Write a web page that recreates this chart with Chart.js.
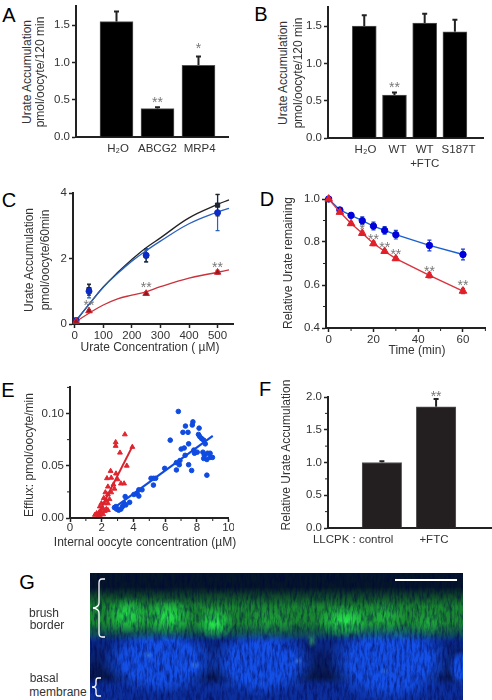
<!DOCTYPE html>
<html>
<head>
<meta charset="utf-8">
<title>Urate transport panels</title>
<script src="https://cdn.jsdelivr.net/npm/chart.js@4"></script>
<style>
html, body { margin: 0; padding: 0; background: #fff; }
#page { position: relative; width: 492px; height: 700px; overflow: hidden; font-family: "Liberation Sans", Arial, sans-serif; color: #333; }
#page canvas { position: absolute; }
.txt { position: absolute; white-space: nowrap; transform: translate(-50%, -50%); }
.letter { font-size: 20px; color: #000; }
.ttl { font-size: 12px; }
#micro {
  position: absolute; left: 90px; top: 573px; width: 373px; height: 127px;
  background:
    radial-gradient(ellipse 24px 19px at 38px 42px, rgba(40,240,80,.85), transparent),
    radial-gradient(ellipse 26px 19px at 78px 44px, rgba(40,245,80,.9), transparent),
    radial-gradient(ellipse 19px 17px at 125px 50px, rgba(40,250,80,.95), transparent),
    radial-gradient(ellipse 26px 15px at 180px 48px, rgba(40,190,70,.5), transparent),
    radial-gradient(ellipse 30px 17px at 255px 48px, rgba(40,245,80,.9), transparent),
    radial-gradient(ellipse 22px 16px at 295px 44px, rgba(40,225,75,.55), transparent),
    radial-gradient(ellipse 18px 14px at 338px 50px, rgba(40,205,70,.55), transparent),
    radial-gradient(ellipse 6px 8px at 222px 68px, rgba(60,190,80,.6), transparent),
    radial-gradient(ellipse 5px 4px at 58px 82px, rgba(90,170,240,.5), transparent),
    radial-gradient(ellipse 5px 4px at 105px 92px, rgba(90,170,240,.4), transparent),
    radial-gradient(ellipse 5px 4px at 208px 88px, rgba(90,170,240,.4), transparent),
    radial-gradient(ellipse 5px 4px at 295px 98px, rgba(90,170,240,.4), transparent),
    linear-gradient(180deg, transparent 0 14px, rgba(26,120,45,.55) 24px, rgba(26,140,48,.95) 34px, rgba(26,140,48,.95) 50px, rgba(26,120,60,.6) 60px, transparent 68px),
    radial-gradient(ellipse 13px 18px at 371px 95px, #1450e6 55%, transparent),
    radial-gradient(ellipse 60px 34px at 70px 88px, #1450e6 62%, transparent),
    radial-gradient(ellipse 54px 34px at 172px 90px, #1450e6 62%, transparent),
    radial-gradient(ellipse 64px 42px at 300px 88px, #1450e6 62%, transparent),
    linear-gradient(180deg, #051629 0 30px, #07205a 52px, #0a2a8c 66px, #08184a 104px, #0c2f9c 112px, #0c2f9c 127px);
}
#micro svg { position: absolute; left: 0; top: 0; }
</style>
</head>
<body>
<div id="page"></div>
<script>
// panel A
const xA = [1, 2, 3];
const valuesA = [1.545, 0.38, 0.96];
const errA = [0.135, 0.02, 0.12];
const labelsA = ['H₂O', 'ABCG2', 'MRP4'];
const labelPosA = [1.04, 2.0, 3.03];
const yTicksA = [0, 0.5, 1.0, 1.5];
const starXA = [2, 3];
const starYA = [0.48, 1.2];
const starTextA = ['**', '*'];

// panel B
const xB = [1, 2, 3, 4];
const valuesB = [1.5, 0.576, 1.54, 1.424];
const errB = [0.143, 0.035, 0.125, 0.16];
const labelsB = ['H₂O', 'WT', ['WT', '+FTC'], 'S187T'];
const labelPosB = [1.04, 2.1, 3.0, 4.12];
const yTicksB = [0, 0.5, 1.0, 1.5];
const starXB = [2];
const starYB = [0.69];
const starTextB = ['**'];

// panel C
const concC = [5, 50, 250, 500];
const blackC = [0.12, 1.05, 2.08, 3.63];
const blackErrC = [0.03, 0.17, 0.18, 0.33];
const blueC = [0.1, 1.0, 2.1, 3.4];
const blueErrC = [0.03, 0.2, 0.2, 0.55];
const redC = [0.08, 0.4, 0.93, 1.58];
const redErrC = [0.02, 0.04, 0.05, 0.06];
const curveXC = [0, 50, 100, 150, 200, 250, 300, 400, 500, 540];
const blackCurveC = [0.05, 0.6, 1.13, 1.57, 1.97, 2.33, 2.63, 3.24, 3.65, 3.79];
const blueCurveC = [0.05, 0.6, 1.12, 1.54, 1.92, 2.24, 2.53, 3.06, 3.42, 3.53];
const redCurveC = [0.05, 0.33, 0.58, 0.77, 0.88, 0.98, 1.14, 1.4, 1.58, 1.65];
const xTicksC = [0, 100, 200, 300, 400, 500];
const yTicksC = [0, 2, 4];
const starXC = [50, 250, 500];
const starYC = [0.62, 1.15, 1.77];
const starTextC = ['**', '**', '**'];

// panel D
const timeD = [0, 5, 10, 15, 20, 25, 30, 45, 60];
const blueD = [1.0, 0.949, 0.924, 0.899, 0.874, 0.854, 0.834, 0.784, 0.742];
const blueErrD = [0.005, 0.01, 0.012, 0.018, 0.018, 0.018, 0.02, 0.025, 0.025];
const redD = [1.0, 0.939, 0.886, 0.841, 0.793, 0.757, 0.723, 0.645, 0.572];
const redErrD = [0.005, 0.008, 0.008, 0.01, 0.01, 0.008, 0.008, 0.012, 0.012];
const xTicksD = [0, 20, 40, 60];
const yTicksD = [0.4, 0.6, 0.8, 1.0];
const starXD = [15, 20, 25, 30, 45, 60];
const starYD = [0.864, 0.818, 0.783, 0.746, 0.67, 0.606];
const starTextD = ['*', '**', '**', '**', '**', '**'];

// panel E
const blueXE = [6.83, 6.32, 7.28, 7.71, 7.75, 8.14, 7.12, 7.44, 8.10, 8.18, 8.30, 8.43, 8.53, 7.48, 7.01, 7.20, 7.26, 7.48, 7.67, 6.71, 6.89, 6.71, 6.93, 7.81, 7.85, 8.02, 8.38, 8.47, 8.67, 8.83, 8.43, 8.63, 8.83, 8.98, 8.63, 5.97, 5.26, 5.11, 5.40, 5.26, 4.34, 4.23, 4.03, 4.54, 3.48, 3.76, 3.52, 3.31, 2.90, 3.07, 3.21, 2.94, 2.80, 3.41, 4.34];
const blueYE = [0.102, 0.0745, 0.088, 0.089, 0.092, 0.086, 0.082, 0.082, 0.080, 0.078, 0.076, 0.0745, 0.071, 0.071, 0.066, 0.067, 0.060, 0.051, 0.0455, 0.046, 0.051, 0.053, 0.055, 0.065, 0.062, 0.063, 0.063, 0.060, 0.062, 0.062, 0.057, 0.056, 0.058, 0.058, 0.041, 0.0475, 0.038, 0.038, 0.038, 0.0315, 0.027, 0.0235, 0.0225, 0.027, 0.0205, 0.015, 0.0125, 0.011, 0.011, 0.0075, 0.0085, 0.0085, 0.010, 0.014, 0.021];
const redXE = [3.46, 2.88, 2.88, 3.93, 3.15, 3.58, 2.56, 2.9, 2.33, 2.6, 3.0, 3.21, 3.41, 2.74, 2.8, 2.39, 2.23, 2.39, 2.6, 2.13, 2.29, 2.49, 1.98, 2.19, 2.39, 1.88, 2.09, 2.29, 1.68, 1.84, 1.98, 2.19, 1.57, 1.88, 2.09, 1.78, 2.39];
const redYE = [0.08, 0.0725, 0.069, 0.068, 0.0625, 0.05, 0.045, 0.0425, 0.038, 0.0385, 0.037, 0.033, 0.033, 0.032, 0.028, 0.03, 0.0245, 0.0225, 0.0245, 0.019, 0.017, 0.018, 0.014, 0.014, 0.014, 0.011, 0.009, 0.0085, 0.0045, 0.0055, 0.006, 0.0067, 0.003, 0.003, 0.0035, 0.003, 0.0075];
const blueFitXE = [2.8, 9.0];
const blueFitYE = [0.01, 0.0787];
const redFitXE = [1.84, 3.95];
const redFitYE = [0.006, 0.069];
const xTicksE = [0, 2, 4, 6, 8, 10];
const yTicksE = [0, 0.05, 0.10];

// panel F
const xF = [1, 2];
const valuesF = [1.0, 1.85];
const errF = [0.02, 0.12];
const labelsF = ['LLCPK : control', '+FTC'];
const labelPosF = [0.47, 1.96];
const yTicksF = [0, 0.5, 1.0, 1.5, 2.0];
const starXF = [2];
const starYF = [2.03];
const starTextF = ['**'];

const page = document.getElementById('page');
const ink = '#222';
const tickFont = { family: '"Liberation Sans", Arial, sans-serif', size: 11.5 };

function label(text, x, y, cls, rotate) {
  const el = document.createElement('div');
  el.className = 'txt ' + cls;
  el.textContent = text;
  el.style.left = x + 'px';
  el.style.top = y + 'px';
  if (rotate) el.style.transform = 'translate(-50%, -50%) rotate(-90deg)';
  page.appendChild(el);
}

function pts(xs, ys) {
  return xs.map((x, i) => ({ x: x, y: ys[i] }));
}

// upper/lower whiskers come from dataset.errs, drawn under the markers
const errorBars = {
  id: 'errorBars',
  beforeDatasetsDraw(chart) {
    const ctx = chart.ctx;
    chart.data.datasets.forEach(ds => {
      if (!ds.errs) return;
      ctx.save();
      ctx.strokeStyle = ds.errColor || ink;
      ctx.lineWidth = ds.errWidth || 1.5;
      ds.data.forEach((p, i) => {
        const px = chart.scales.x.getPixelForValue(p.x);
        const hi = chart.scales.y.getPixelForValue(p.y + ds.errs[i]);
        const lo = chart.scales.y.getPixelForValue(ds.upOnly ? p.y : p.y - ds.errs[i]);
        const cap = ds.errCap || 2.5;
        ctx.beginPath();
        ctx.moveTo(px, lo); ctx.lineTo(px, hi);
        ctx.moveTo(px - cap, hi); ctx.lineTo(px + cap, hi);
        if (!ds.upOnly) { ctx.moveTo(px - cap, lo); ctx.lineTo(px + cap, lo); }
        ctx.stroke();
      });
      ctx.restore();
    });
  }
};
Chart.register(errorBars);

function starPlugin(xs, ys, texts) {
  return {
    id: 'stars',
    afterDatasetsDraw(chart) {
      const ctx = chart.ctx;
      ctx.save();
      ctx.fillStyle = '#777';
      ctx.font = '14px "Liberation Sans", Arial, sans-serif';
      ctx.textAlign = 'center';
      ctx.textBaseline = 'middle';
      xs.forEach((x, i) => {
        ctx.fillText(texts[i], chart.scales.x.getPixelForValue(x), chart.scales.y.getPixelForValue(ys[i]) + 2);
      });
      ctx.restore();
    }
  };
}

// short unlabelled ticks between the labelled ones
function minorPlugin(xs, ys) {
  return {
    id: 'minorTicks',
    afterDraw(chart) {
      const ctx = chart.ctx, a = chart.chartArea;
      ctx.save();
      ctx.strokeStyle = ink;
      ctx.lineWidth = 1;
      xs.forEach(v => {
        const p = chart.scales.x.getPixelForValue(v);
        ctx.beginPath(); ctx.moveTo(p, a.bottom); ctx.lineTo(p, a.bottom + 3); ctx.stroke();
      });
      ys.forEach(v => {
        const p = chart.scales.y.getPixelForValue(v);
        ctx.beginPath(); ctx.moveTo(a.left, p); ctx.lineTo(a.left - 3, p); ctx.stroke();
      });
      ctx.restore();
    }
  };
}

// box = axis corner in page pixels, so every panel lands where the figure has it
function panel(box, type, datasets, xCfg, yCfg, plugins) {
  const leftRoom = 34, topRoom = 16, rightRoom = 2, bottomRoom = 32;
  const canvas = document.createElement('canvas');
  const w = box.right - box.left + leftRoom + rightRoom;
  const h = box.bottom - box.top + topRoom + bottomRoom;
  canvas.width = w;
  canvas.height = h;
  canvas.style.left = (box.left - leftRoom) + 'px';
  canvas.style.top = (box.top - topRoom) + 'px';
  canvas.style.width = w + 'px';
  canvas.style.height = h + 'px';
  page.appendChild(canvas);

  const xFormat = xCfg.names ? (v, i) => xCfg.names[i] : v => String(v);
  const xPad = xCfg.pad !== undefined ? xCfg.pad : (xCfg.names ? 5 : 1);
  return new Chart(canvas, {
    type: type,
    data: { datasets: datasets },
    options: {
      responsive: false,
      animation: false,
      clip: false,
      layout: { padding: { top: topRoom, right: rightRoom, left: 0, bottom: 0 } },
      plugins: { legend: { display: false }, tooltip: { enabled: false } },
      scales: {
        x: {
          type: 'linear',
          min: xCfg.min,
          max: xCfg.max,
          offset: false,
          afterFit: s => { s.height = bottomRoom; },
          afterBuildTicks: s => { s.ticks = xCfg.ticks.map(v => ({ value: v })); },
          border: { color: ink, width: 2 },
          grid: { display: true, drawOnChartArea: false, drawTicks: !xCfg.names, tickLength: 4, tickColor: ink, tickWidth: 1.5 },
          ticks: { color: '#333', font: tickFont, padding: xPad, autoSkip: false, maxRotation: 0, callback: xFormat }
        },
        y: {
          type: 'linear',
          min: yCfg.min,
          max: yCfg.max,
          afterFit: s => { s.width = leftRoom; },
          afterBuildTicks: s => { s.ticks = yCfg.ticks.map(v => ({ value: v })); },
          border: { color: ink, width: 2 },
          grid: { display: true, drawOnChartArea: false, tickLength: 4, tickColor: ink, tickWidth: 1.5 },
          ticks: { color: '#333', font: tickFont, padding: 2, autoSkip: false, callback: v => v.toFixed(yCfg.decimals) }
        }
      }
    },
    plugins: plugins
  });
}

function barSet(xs, values, errs, thick, fill) {
  return {
    data: pts(xs, values),
    backgroundColor: fill,
    borderColor: '#555',
    borderWidth: 1,
    barThickness: thick,
    errs: errs,
    upOnly: true,
    errWidth: 2,
    errCap: 2.5
  };
}

function markerSet(xs, ys, errs, style, radius, fill, edge, line, errColor) {
  return {
    data: pts(xs, ys),
    pointStyle: style,
    pointRadius: radius,
    backgroundColor: fill,
    pointBackgroundColor: fill,
    pointBorderColor: edge,
    borderColor: line || edge,
    pointBorderWidth: 1,
    showLine: !!line,
    borderWidth: line ? 1.4 : 0,
    errs: errs,
    errColor: errColor,
    errWidth: 1.2,
    errCap: 2
  };
}

function lineSet(xs, ys, color, width, tension) {
  return {
    data: pts(xs, ys),
    showLine: true,
    pointRadius: 0,
    borderColor: color,
    borderWidth: width,
    tension: tension
  };
}

// A
panel({ left: 76, right: 228, top: 6, bottom: 137 }, 'bar',
  [barSet(xA, valuesA, errA, 33, '#000')],
  { min: 0.012, max: 3.72, ticks: labelPosA, names: labelsA },
  { min: 0, max: 1.755, ticks: yTicksA, decimals: 1 },
  [starPlugin(starXA, starYA, starTextA)]);

// B
panel({ left: 328, right: 483, top: 7, bottom: 138 }, 'bar',
  [barSet(xB, valuesB, errB, 24, '#000')],
  { min: -0.2, max: 4.93, ticks: labelPosB, names: labelsB },
  { min: 0, max: 1.755, ticks: yTicksB, decimals: 1 },
  [starPlugin(starXB, starYB, starTextB)]);

// C
panel({ left: 73, right: 236, top: 193, bottom: 324 }, 'scatter',
  [
    markerSet(concC, redC, redErrC, 'triangle', 3.8, '#8c1a20', '#d9232e', null, '#c8323c'),
    markerSet(concC, blueC, blueErrC, 'circle', 3, '#0a2bc8', '#0a2bc8', null, '#2a62c0'),
    markerSet(concC, blackC, blackErrC, 'rect', 3, '#1c2530', '#1c2530', null, '#222'),
    lineSet(curveXC, redCurveC, '#c8323c', 1.3, 0.4),
    lineSet(curveXC, blueCurveC, '#2a62c0', 1.3, 0.4),
    lineSet(curveXC, blackCurveC, '#222', 1.3, 0.4)
  ],
  { min: -6, max: 554, ticks: xTicksC },
  { min: 0, max: 4, ticks: yTicksC, decimals: 0 },
  [starPlugin(starXC, starYC, starTextC)]);

// D
panel({ left: 326, right: 489, top: 199, bottom: 328 }, 'scatter',
  [
    markerSet(timeD, redD, redErrD, 'triangle', 4.4, '#e0202a', '#e0202a', '#d9323c', '#c8323c'),
    markerSet(timeD, blueD, blueErrD, 'circle', 3.2, '#0000dc', '#0000dc', '#1a5fd0', '#1a3fc8')
  ],
  { min: -1.2, max: 70.1, ticks: xTicksD },
  { min: 0.4, max: 1.0, ticks: yTicksD, decimals: 1 },
  [starPlugin(starXD, starYD, starTextD), minorPlugin([10, 30, 50, 70], [0.5, 0.7, 0.9])]);

// E
panel({ left: 70, right: 232, top: 387, bottom: 518 }, 'scatter',
  [
    lineSet(redFitXE, redFitYE, '#d9232e', 2, 0),
    lineSet(blueFitXE, blueFitYE, '#0f4be0', 2.2, 0),
    markerSet(redXE, redYE, null, 'triangle', 2.8, '#e0252f', '#e0252f', null),
    markerSet(blueXE, blueYE, null, 'circle', 2.3, '#0f4be0', '#0f4be0', null)
  ],
  { min: 0, max: 10, ticks: xTicksE, pad: -1 },
  { min: 0, max: 0.1254, ticks: yTicksE, decimals: 2 },
  [minorPlugin([1, 3, 5, 7, 9], [0.025, 0.075, 0.125])]);

// F
panel({ left: 328, right: 491, top: 397, bottom: 528 }, 'bar',
  [barSet(xF, valuesF, errF, 39.5, '#231f20')],
  { min: 0.006, max: 3.013, ticks: labelPosF, names: labelsF },
  { min: 0, max: 2.0, ticks: yTicksF, decimals: 1 },
  [starPlugin(starXF, starYF, starTextF), minorPlugin([], [0.25, 0.75, 1.25, 1.75])]);

// panel letters
label('A', 9, 15, 'letter');
label('B', 261, 14, 'letter');
label('C', 9, 200, 'letter');
label('D', 267, 199, 'letter');
label('E', 8, 390, 'letter');
label('F', 265, 389, 'letter');
label('G', 27, 582, 'letter');

// axis titles
label('Urate Accumulation', 27, 72, 'ttl', true);
label('pmol/oocyte/120 min', 40, 72, 'ttl', true);
label('Urate Accumulation', 283, 73, 'ttl', true);
label('pmol/oocyte/120 min', 298, 73, 'ttl', true);
label('Urate Accumulation', 29, 260, 'ttl', true);
label('pmol/oocyte/60min', 45, 260, 'ttl', true);
label('Urate Concentration ( µM)', 150, 347, 'ttl');
label('Relative Urate remaining', 288, 263, 'ttl', true);
label('Time (min)', 417, 350, 'ttl');
label('Efflux: pmol/oocyte/min', 29, 455, 'ttl', true);
label('Internal oocyte concentration (µM)', 145, 542, 'ttl');
label('Relative Urate Accumulation', 286, 455, 'ttl', true);

// panel G labels
label('brush', 44, 613, 'ttl');
label('border', 47, 625, 'ttl');
label('basal', 44, 678, 'ttl');
label('membrane', 58, 692, 'ttl');

// micrograph stand-in: soft colour fields with a streaky noise layer over them
const micro = document.createElement('div');
micro.id = 'micro';
micro.innerHTML = '<svg width="373" height="127" fill="none" stroke="#fff" stroke-width="1.3">' +
  '<filter id="streak"><feTurbulence type="fractalNoise" baseFrequency="0.4 0.1" numOctaves="3" seed="4"/>' +
  '<feColorMatrix values="0 0 0 0 0  0 0 0 0 0  0 0 0 0 0.05  2.2 0 0 0 -0.85"/></filter>' +
  '<rect width="373" height="127" fill="#000" stroke="none" filter="url(#streak)" opacity="0.55"/>' +
  '<path d="M15 6 h-3 q-3 0 -3 4 v20 q0 4 -6 5 q6 1 6 5 v20 q0 4 3 4 h3"/>' +
  '<path d="M11 105 h-3 q-2 0 -2 3 v3 q0 3 -4 3 q4 0 4 3 v3 q0 3 2 3 h3"/>' +
  '<path d="M305 7 h62" stroke-width="2"/></svg>';
page.appendChild(micro);
</script>
</body>
</html>
